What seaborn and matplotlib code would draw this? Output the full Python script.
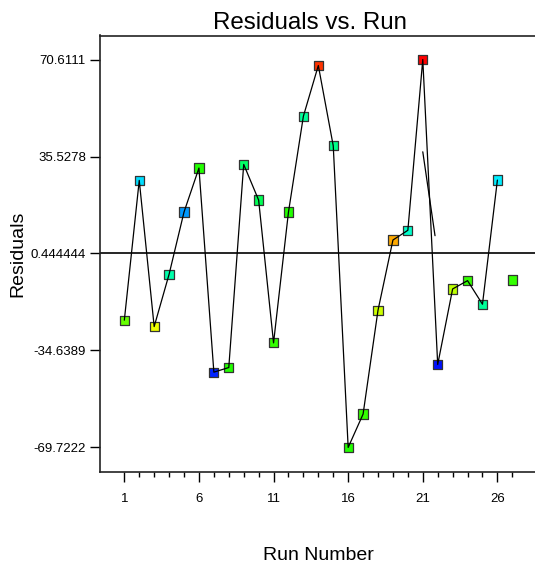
import matplotlib
matplotlib.use("Agg")
import matplotlib.pyplot as plt
import seaborn as sns
import pandas as pd
from matplotlib.ticker import FixedLocator

# ---- data ----
runs = list(range(1, 28))
residuals = [-23.69, 26.89, -26.00, -7.07, 15.44, 31.34, -42.48, -40.81, 32.67,
             19.77, -31.89, 15.44, 50.12, 68.44, 39.39, -69.72, -57.65, -20.08,
             5.32, 8.83, 70.61, -39.73, -12.38, -9.38, -17.91, 27.00, -9.13]
point_colors = ['#66ff00', '#00ddff', '#eeff00', '#00ffaa', '#0099ff', '#22ff00',
                '#0022ff', '#22ff00', '#00ff66', '#00ff55', '#33ff00', '#22ff00',
                '#00ff99', '#ff3300', '#00ff88', '#22ff00', '#33ff00', '#ccff00',
                '#ffaa00', '#00ffcc', '#ff0000', '#0011ff', '#bbff00', '#33ff00',
                '#00ff99', '#00eeff', '#33ff00']
connected_runs = 26          # line joins runs 1..26
stray_x = [21.0, 21.82]      # stray segment seen in the original
stray_y = [37.23, 6.88]
ref_value = 0.444444
ytick_values = [-69.7222, -34.6389, 0.444444, 35.5278, 70.6111]
ytick_labels = ['-69.7222', '-34.6389', '0.444444', '35.5278', '70.6111']
xtick_major = [1, 6, 11, 16, 21, 26]
xtick_minor = list(range(1, 28))

df = pd.DataFrame({"run": runs, "res": residuals,
                   "key": [str(r) for r in runs]})

sns.set_style("ticks")
plt.rcParams['font.family'] = ['Liberation Sans', 'DejaVu Sans']
plt.rcParams['text.color'] = 'black'
plt.rcParams['axes.labelcolor'] = 'black'

fig = plt.figure(figsize=(5.35, 5.71), dpi=100)
ax = fig.add_axes([100/535, 1 - 472/571, 435/535, (472 - 35.5)/571])

ax.axhline(ref_value, color='black', lw=1.2, zorder=1)

sns.scatterplot(data=df, x="run", y="res", hue="key",
                palette=dict(zip(df["key"], point_colors)),
                marker='s', s=44, edgecolor='#333333', linewidth=0.9,
                legend=False, ax=ax, zorder=2)
sns.lineplot(data=df.iloc[:connected_runs], x="run", y="res", sort=False,
             color='black', lw=0.9, ax=ax, zorder=3)
ax.plot(stray_x, stray_y, color='black', lw=0.9, zorder=3)

ax.set_xlim(-0.63, 28.52)
ax.set_ylim(-78.6, 79.3)

ax.set_yticks(ytick_values)
ax.set_yticklabels(ytick_labels)
ax.set_xticks(xtick_major)
ax.set_xticklabels([str(v) for v in xtick_major])
ax.xaxis.set_minor_locator(FixedLocator(xtick_minor))

ax.tick_params(axis='y', direction='out', length=7.2, width=1, labelsize=9.5,
               pad=3, colors='black')
ax.tick_params(axis='x', which='major', direction='out', length=7.2, width=1,
               labelsize=9.5, pad=8, colors='black')
ax.tick_params(axis='x', which='minor', direction='out', length=3.6, width=1,
               colors='black')

for side in ['left', 'bottom', 'top']:
    ax.spines[side].set_color('#222222')
    ax.spines[side].set_linewidth(1.2)
ax.spines['right'].set_visible(False)

ax.set_title("Residuals vs. Run", fontsize=17.4, pad=5, color='black',
             x=(310 - 100) / 435)
ax.set_xlabel("Run Number", fontsize=14, va='center', color='black')
ax.set_ylabel("Residuals", fontsize=14, va='center', color='black')
ax.xaxis.set_label_coords((318 - 100) / 435, (472 - 555) / 436.5)
ax.yaxis.set_label_coords((18 - 100) / 435, 0.5)

fig.savefig("out.png", dpi=100)
